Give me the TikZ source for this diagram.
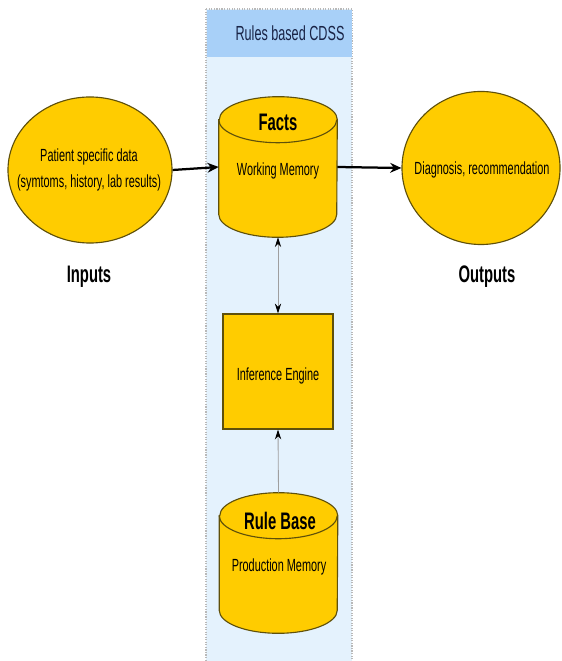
\documentclass[tikz,border=0pt]{standalone}
\usepackage{fontspec}
\setmainfont{Liberation Sans}
\newfontfamily\narrowfont[FakeStretch=0.62]{Liberation Sans}
\usetikzlibrary{shapes.geometric, arrows.meta, positioning}
\definecolor{cdssyellow}{RGB}{255,204,0}
\definecolor{cdssedge}{RGB}{95,80,10}
\definecolor{cdsspanel}{RGB}{228,242,253}
\definecolor{cdsshead}{RGB}{168,208,248}
\definecolor{cdsstext}{RGB}{25,35,70}
\tikzset{
    blob/.style={ellipse, draw=cdssedge, line width=0.8pt, fill=cdssyellow},
    memory/.style={rectangle, inner sep=0pt, minimum width=2.95cm, minimum height=3.5cm},
    drum/.style={draw=cdssedge, line width=0.8pt, fill=cdssyellow},
    engine/.style={rectangle, draw=cdssedge, line width=0.8pt, fill=cdssyellow,
        minimum width=2.75cm, minimum height=2.875cm},
    txt/.style={inner sep=0pt, font=\narrowfont\fontsize{12.5}{15}\selectfont, align=center},
    bigtxt/.style={inner sep=0pt, font=\narrowfont\bfseries\fontsize{17}{20}\selectfont},
    flow/.style={line width=1.6pt, -{Stealth[length=8pt, width=7pt]}},
    link/.style={draw=gray!75, line width=0.6pt}
}
\newcommand\drawdrum[1]{%
    \filldraw[drum] ([yshift=-0.575cm]#1.north west) -- ([yshift=0.575cm]#1.south west)
        arc[start angle=180, end angle=360, x radius=1.475cm, y radius=0.575cm]
        -- ([yshift=-0.575cm]#1.north east)
        arc[start angle=0, end angle=180, x radius=1.475cm, y radius=0.575cm] -- cycle;
    \draw[drum, fill=none] ([yshift=-0.575cm]#1.north west)
        arc[start angle=180, end angle=360, x radius=1.475cm, y radius=0.575cm];}
\begin{document}
\begin{tikzpicture}[x=0.025cm, y=-0.025cm]
    \useasboundingbox (0,0) rectangle (561,661);
    \fill[cdsspanel, draw=gray!55, densely dotted, line width=0.8pt] (206,9) rectangle (352,680);
    \fill[cdsshead] (207,10) rectangle (351.5,57);
    \node[txt, text=cdsstext, font=\narrowfont\fontsize{14.5}{16}\selectfont] (cdsstitle) at (290,33) {Rules based CDSS};
    \node[blob, minimum width=4.1cm, minimum height=3.65cm] (inputs) at (90,170) {};
    \node[txt] (inputtext) at (89,170) {Patient specific data\\[4pt](symtoms, history, lab results)};
    \node[bigtxt] (inputlabel) at (89,277) {Inputs};
    \node[blob, minimum width=3.95cm, minimum height=3.825cm] (outputs) at (481,168) {};
    \node[txt] (outputtext) at (482,170) {Diagnosis, recommendation};
    \node[bigtxt] (outputlabel) at (487,277) {Outputs};
    \node[memory] (facts) at (278,167) {};
    \drawdrum{facts}
    \node[bigtxt] (factstitle) at (278,122) {Facts};
    \node[txt] (factstext) at (278,171) {Working Memory};
    \node[engine] (engine) at (278,371.5) {};
    \node[txt] (enginetext) at (278,376) {Inference Engine};
    \node[memory] (rules) at (278.5,563) {};
    \drawdrum{rules}
    \node[bigtxt] (rulestitle) at (280,521) {Rule Base};
    \node[txt] (rulestext) at (279,567) {Production Memory};
    \draw[flow] (inputs.east) -- (facts.west);
    \draw[flow] (facts.east) -- (outputs.west);
    \draw[link, {Stealth[black, length=7pt, width=4.5pt]}-{Stealth[black, length=7pt, width=4.5pt]}] (facts.south) -- (engine.north);
    \draw[link, -{Stealth[black, length=7pt, width=4.5pt]}] (rules.north) -- (engine.south);
\end{tikzpicture}
\end{document}
